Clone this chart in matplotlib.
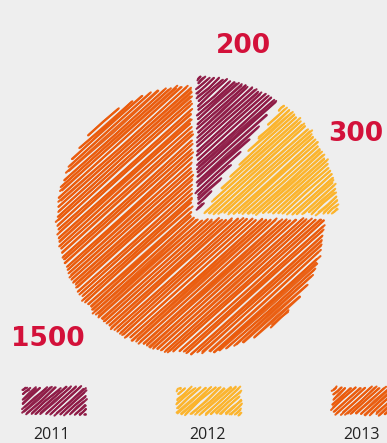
import numpy as np
import matplotlib
matplotlib.use("Agg")
from matplotlib import pyplot as plt
from matplotlib.collections import LineCollection

years = ["2011", "2012", "2013"]
values = [200, 300, 1500]
colors = ["#8e1b46", "#fcb42c", "#ea5b0c"]
label_color = "#d3113a"

W, H = 387, 443
rng = np.random.default_rng(7)


def sector(cx, cy, r, t1, t2, n=90):
    th = np.radians(np.linspace(t1, t2, n))
    xs = np.concatenate([[cx], cx + r * np.cos(th)])
    ys = np.concatenate([[cy], cy - r * np.sin(th)])
    return np.column_stack([xs, ys])


def hachure(poly, gap=3.3, angle=42):
    a = np.radians(angle)
    d = np.array([np.cos(a), -np.sin(a)])
    nrm = np.array([np.sin(a), np.cos(a)])
    u = poly @ d
    v = poly @ nrm
    segs = []
    for lv in np.arange(v.min() + gap / 2, v.max(), gap):
        xs = []
        for i in range(len(poly)):
            j = (i + 1) % len(poly)
            if (v[i] <= lv < v[j]) or (v[j] <= lv < v[i]):
                t = (lv - v[i]) / (v[j] - v[i])
                xs.append(u[i] + t * (u[j] - u[i]))
        xs.sort()
        for k in range(0, len(xs) - 1, 2):
            segs.append((xs[k], xs[k + 1], lv))
    lines = []
    for u0, u1, lv in segs:
        for _ in range(2):
            a0 = u0 + rng.normal(0, 1.2)
            a1 = u1 + rng.normal(0, 1.2)
            off = rng.normal(0, 0.4, 2)
            bow = rng.normal(0, 0.5)
            pts = [a0 * d + (lv + off[0]) * nrm,
                   (a0 + a1) / 2 * d + (lv + (off[0] + off[1]) / 2 + bow) * nrm,
                   a1 * d + (lv + off[1]) * nrm]
            lines.append(pts)
    return lines


def draw_rough(ax, poly, color):
    lc = LineCollection(hachure(poly), colors=color, linewidths=1.5,
                        alpha=0.95, capstyle="round")
    ax.add_collection(lc)


fig = plt.figure(figsize=(W / 100, H / 100), dpi=100)
fig.patch.set_facecolor("#eeeeee")
ax = fig.add_axes([0, 0, 1, 1])
ax.set_facecolor("#eeeeee")
ax.set_xlim(0, W)
ax.set_ylim(H, 0)
ax.axis("off")

cx, cy, r = 191, 220, 133
offsets = [(7, -10), (13, -7), (0, 0)]
total = float(sum(values))
start = 90.0
for val, col, (ox, oy) in zip(values, colors, offsets):
    sweep = 360.0 * val / total
    end = start - sweep
    poly = sector(cx + ox, cy + oy, r, start, end)
    draw_rough(ax, poly, col)
    mid = np.radians((start + end) / 2)
    ax.text(cx - 7 + 193 * np.cos(mid), cy - 6 - 177 * np.sin(mid), str(val),
            color=label_color, fontsize=19, fontweight="bold",
            ha="center", va="center", family="DejaVu Sans")
    start = end

# legend
for i, (yr, col) in enumerate(zip(years, colors)):
    lx = 52 + 155 * i
    rect = np.array([[lx - 29, 388], [lx + 34, 388], [lx + 34, 414], [lx - 29, 414]])
    draw_rough(ax, rect, col)
    ax.text(lx, 435, yr, fontsize=11.5, color="#222222", ha="center",
            va="center", family="Open Sans")

fig.savefig("out.png", dpi=100, facecolor=fig.get_facecolor())
